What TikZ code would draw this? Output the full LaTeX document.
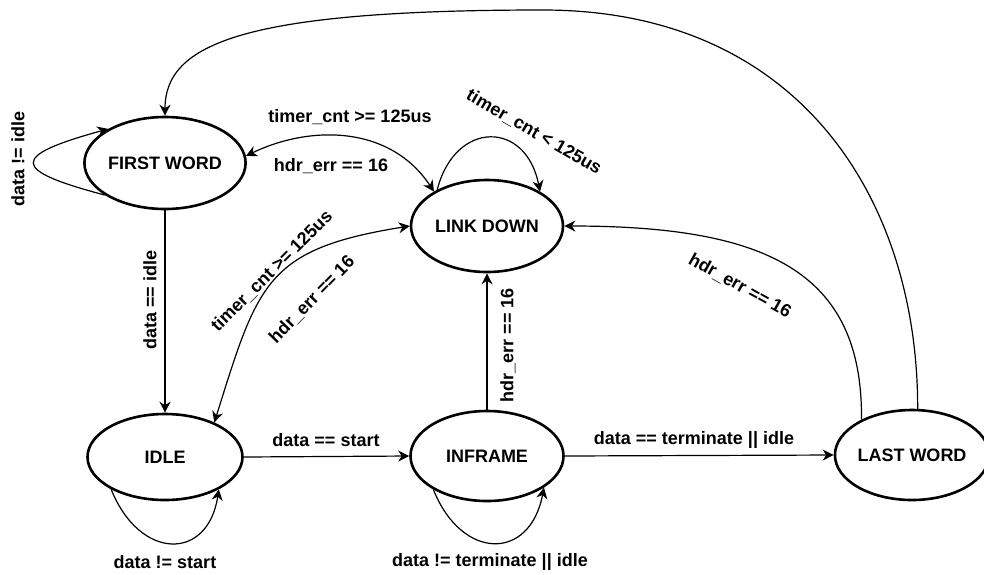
\documentclass[tikz,border=0pt]{standalone}
\usepackage{fontspec}
\setmainfont{Liberation Sans}
\usetikzlibrary{shapes.geometric,arrows.meta}
\begin{document}
\begin{tikzpicture}[x=1pt,y=-1pt,
  state/.style={ellipse,draw,line width=2.6pt,inner sep=0pt,font=\fontsize{18}{21}\selectfont\bfseries},
  lbl/.style={font=\fontsize{18}{21}\selectfont\bfseries,inner sep=0pt},
  conn/.style={line width=1.2pt,-{Stealth[length=11pt,width=11pt,inset=3.5pt]}},
  both/.style={line width=1.2pt,{Stealth[length=11pt,width=11pt,inset=3.5pt]}-{Stealth[length=11pt,width=11pt,inset=3.5pt]}}
  ]
\useasboundingbox (0,0) rectangle (984,574);
% states
\node[state,minimum width=154pt,minimum height=92pt] (fw) at (165,163) {FIRST WORD};
\node[state,minimum width=152pt,minimum height=92pt] (ld) at (487,226) {LINK DOWN};
\node[state,minimum width=155pt,minimum height=86pt] (idle) at (165,457) {IDLE};
\node[state,minimum width=153pt,minimum height=90pt] (inf) at (487,456) {INFRAME};
\node[state,minimum width=142pt,minimum height=90pt] (lw) at (912,455) {LAST WORD};
% straight connectors
\draw[conn] (fw.south) -- (idle.north);
\draw[conn] (idle.east) -- (inf.west);
\draw[conn] (inf.east) -- (lw.west);
\draw[conn] (inf.north) -- (ld.south);
% self loops
\draw[conn] (fw.208) .. controls (10,170) and (10,156) .. (fw.149);
\draw[conn] (idle.211) .. controls (140,561) and (208,561) .. (idle.329);
\draw[conn] (inf.212) .. controls (462,561) and (530,561) .. (inf.331);
\draw[conn] (ld.144) .. controls (455,120) and (526,120) .. (ld.33);
% curved connectors
\draw[both] (fw.5) .. controls (310,125) and (390,125) .. (ld.147);
\draw[both] (ld.west) .. controls (266,249) and (258,283) .. (idle.35);
\draw[conn] (lw.145) .. controls (863,270) and (764,226) .. (ld.east);
\coordinate (top) at (543,10);
\draw[conn] (lw.83) .. controls (918,200) and (800,10) .. (top) .. controls (243,10) and (165,44) .. (fw.north);
% labels
\node[lbl,rotate=90] (t1) at (18,159) {data != idle};
\node[lbl] (t2) at (350,117) {timer\_cnt >= 125us};
\node[lbl] (t3) at (331,166) {hdr\_err == 16};
\node[lbl,rotate=-30] (t4) at (534,132) {timer\_cnt < 125us};
\node[lbl,rotate=45] (t5) at (272,271) {timer\_cnt >= 125us};
\node[lbl,rotate=46] (t6) at (312,300) {hdr\_err == 16};
\node[lbl,rotate=90] (t7) at (150,300) {data == idle};
\node[lbl,rotate=90] (t8) at (508,345) {hdr\_err == 16};
\node[lbl,rotate=-29] (t9) at (740,286) {hdr\_err == 16};
\node[lbl] (t10) at (326,440) {data == start};
\node[lbl] (t11) at (694,440) {data == terminate || idle};
\node[lbl] (t12) at (165,562) {data != start};
\node[lbl] (t13) at (490,562) {data != terminate || idle};
\end{tikzpicture}
\end{document}
